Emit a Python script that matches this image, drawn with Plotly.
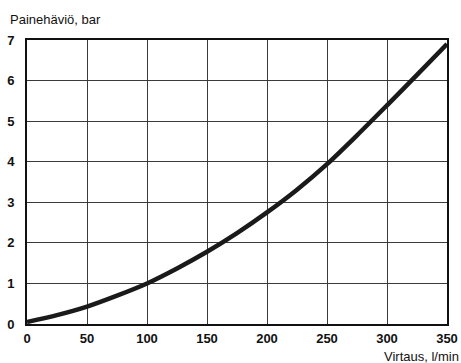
import plotly.graph_objects as go

flow = [0, 25, 50, 75, 100, 125, 150, 175, 200, 225, 250, 275, 300, 325, 350]
pressure = [0.05, 0.22, 0.43, 0.70, 1.0, 1.37, 1.78, 2.24, 2.75, 3.31, 3.94, 4.65, 5.39, 6.14, 6.9]

x_ticks = [0, 50, 100, 150, 200, 250, 300, 350]
y_ticks = [0, 1, 2, 3, 4, 5, 6, 7]

fig = go.Figure()
fig.add_trace(go.Scatter(x=flow, y=pressure, mode="lines",
                         line=dict(color="#1a1a1a", width=4.5, shape="spline", smoothing=0.8),
                         hoverinfo="skip", showlegend=False))

tickfont = dict(family="Liberation Sans, Arial", size=13, color="#111111")
fig.update_xaxes(range=[0, 350], tickvals=x_ticks, ticktext=[f"<b>{v}</b>" for v in x_ticks],
                 showgrid=True, gridcolor="#3a3a3a", gridwidth=1, zeroline=False,
                 showline=True, linecolor="#111111", linewidth=2, mirror=True,
                 ticks="", tickfont=tickfont, ticklabelstandoff=1, automargin=False)
fig.update_yaxes(range=[0, 7], tickvals=y_ticks, ticktext=[f"<b>{v}</b>" for v in y_ticks],
                 showgrid=True, gridcolor="#3a3a3a", gridwidth=1, zeroline=False,
                 showline=True, linecolor="#111111", linewidth=2, mirror=True,
                 ticks="", tickfont=tickfont, ticklabelstandoff=8, automargin=False)

fig.update_layout(
    width=461, height=363,
    margin=dict(l=27, r=14, t=40, b=39),
    paper_bgcolor="white", plot_bgcolor="white",
    font=dict(family="Liberation Sans, Arial", color="#111111"),
    annotations=[
        dict(text="Painehäviö, bar", xref="paper", yref="paper", x=-0.045, y=1.04,
             xanchor="left", yanchor="bottom", showarrow=False,
             font=dict(size=13, family="Liberation Sans, Arial", color="#111111")),
        dict(text="Virtaus, l/min", xref="paper", yref="paper", x=1.033, y=-0.08,
             xanchor="right", yanchor="top", showarrow=False,
             font=dict(size=13, family="Liberation Sans, Arial", color="#111111")),
    ],
)

fig.write_html("out.html", config={"displayModeBar": False},
               post_script="document.body.style.margin='0';document.body.style.overflow='hidden';")
